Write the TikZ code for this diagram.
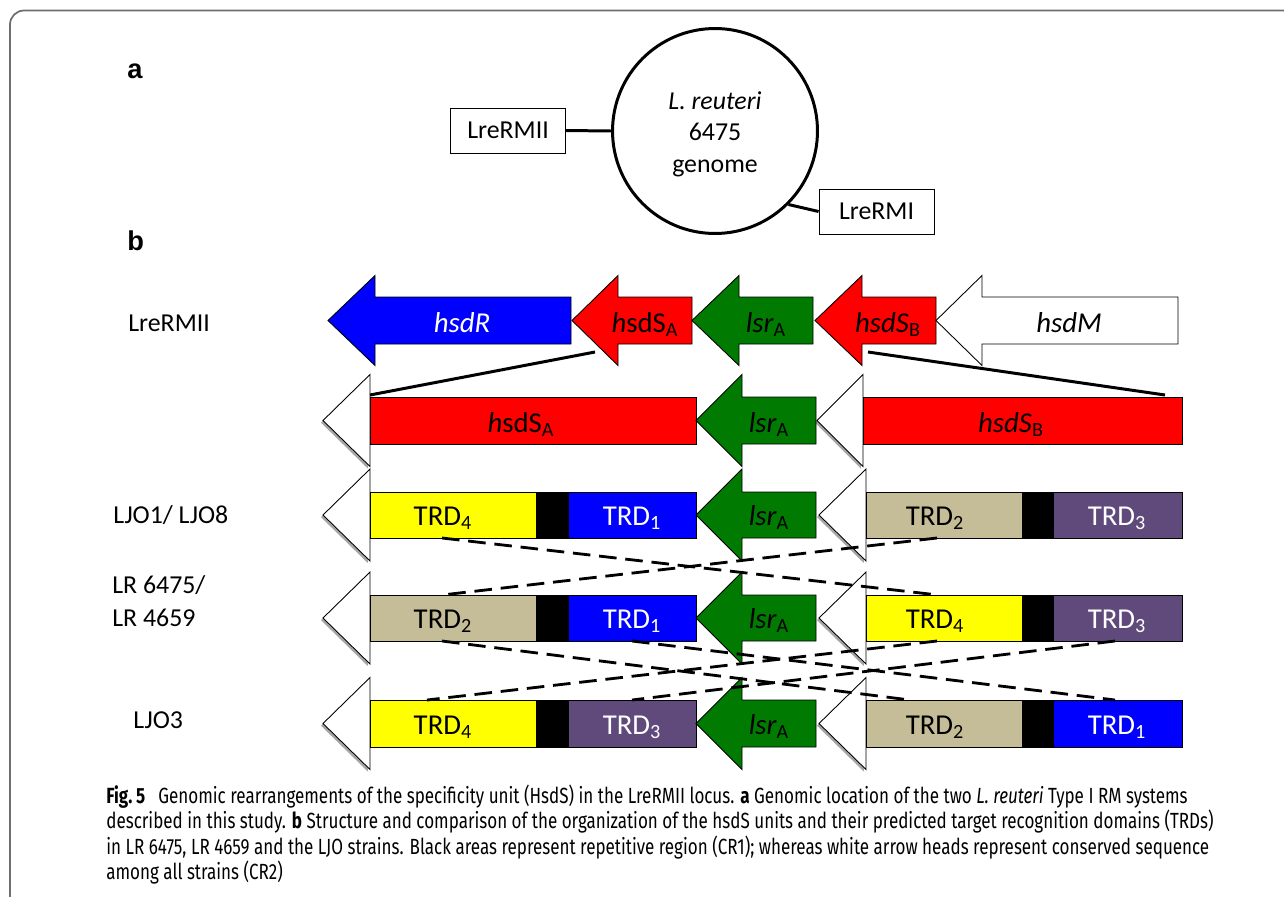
\documentclass[tikz,border=0pt]{standalone}
\usepackage{fontspec}
\setmainfont{Carlito}
\newfontfamily\capfont[FakeStretch=0.775]{Fira Sans}
\newfontfamily\arialfont{Liberation Sans}
\usetikzlibrary{shadows}
\definecolor{cblue}{RGB}{0,0,255}
\definecolor{cred}{RGB}{255,0,0}
\definecolor{cgreen}{RGB}{0,122,0}
\definecolor{cyellow}{RGB}{255,255,0}
\definecolor{ctan}{RGB}{196,189,151}
\definecolor{cpurple}{RGB}{96,74,123}
\definecolor{cframe}{RGB}{110,110,110}
% block arrow pointing left: style, tip x, back x, right x, centre y, head half, body half
\newcommand\blockarrow[7]{\filldraw[line width=0.5pt,#1] (#2,#5) -- (#3,#5-#6) -- (#3,#5-#7) -- (#4,#5-#7) -- (#4,#5+#7) -- (#3,#5+#7) -- (#3,#5+#6) -- cycle;}
% white arrow head: tip x, back x, centre y
\newcommand\whitehead[3]{\filldraw[fill=white,draw=black,line width=0.5pt,
  drop shadow={shadow xshift=-1.2pt, shadow yshift=-1.2pt, opacity=0.35, fill=black}] (#1,#3) -- (#2,#3-46) -- (#2,#3+46) -- cycle;}
\begin{document}
\begin{tikzpicture}[x=0.02cm,y=-0.02cm,
  gene/.style={font=\fontsize{16.4}{19}\selectfont, inner sep=0, anchor=base},
  lab/.style={font=\fontsize{14.7}{17}\selectfont, inner sep=0, anchor=base west},
  abox/.style={draw, line width=0.5pt, minimum width=2.3cm, minimum height=0.9cm, font=\fontsize{14.7}{17}\selectfont, inner sep=0},
  panel/.style={font=\arialfont\bfseries\fontsize{15.5}{18}\selectfont, inner sep=0, anchor=base west},
  thickline/.style={line width=1.7pt},
  dashx/.style={line width=1.6pt, dash pattern=on 10pt off 5pt},
  capline/.style={font=\capfont\fontsize{12.5}{15}\selectfont, inner sep=0, anchor=base west}
]
\useasboundingbox (0,0) rectangle (1284,896);
\begin{scope}
\clip (0,0) rectangle (1284,896);
\draw[cframe, line width=1pt, rounded corners=8pt] (1300,10.5) -- (10,10.5) -- (10,920);
\end{scope}

% ---------- panel a ----------
\node[panel] (pa) at (127,78) {a};
\node[circle, draw, line width=1.7pt, minimum size=4.1cm, inner sep=0] (genome) at (715,131) {};
\node[align=center, font=\fontsize{14.7}{18}\selectfont, inner sep=0] (gtext) at (715,134) {\textit{L. reuteri}\\6475\\genome};
\node[abox] (lrmII) at (508,130.5) {LreRMII};
\node[abox] (lrmI) at (876.5,211.5) {LreRMI};
\draw[thickline] (lrmII.east) -- (genome.west);
\draw[thickline] (genome.-45) -- (lrmI.west);

% ---------- panel b ----------
\node[panel] (pb) at (127,250) {b};

% row labels
\node[lab] (l1) at (128,331) {LreRMII};
\node[lab] (l3) at (113,523) {LJO1/ LJO8};
\node[lab] (l4a) at (112,593) {LR 6475/};
\node[lab] (l4b) at (112,626) {LR 4659};
\node[lab] (l5) at (133,728) {LJO3};

% row 1
\blockarrow{fill=cblue}{328}{375}{571}{320.5}{45}{23.5}
\blockarrow{fill=cred}{572}{618}{692}{320.5}{45}{23.5}
\blockarrow{fill=cgreen}{692}{739}{813}{320.5}{45}{23.5}
\blockarrow{fill=cred}{815}{862}{936}{320.5}{45}{23.5}
\blockarrow{fill=white}{936}{982}{1178}{320.5}{45}{23.5}
\node[gene, text=white] (g1r) at (462,332) {\textit{hsdR}};
\node[gene] (g1sa) at (645,332) {\textit{h}sdS\textsubscript{A}};
\node[gene] (g1l) at (766,332) {\textit{lsr}\textsubscript{A}};
\node[gene] (g1sb) at (888,332) {\textit{hsdS}\textsubscript{B}};
\node[gene] (g1m) at (1069,332) {\textit{hsdM}};

% row 2
\whitehead{323}{370}{420.5}
\filldraw[fill=cred, line width=0.5pt] (370,397) rectangle (696,444);
\blockarrow{fill=cgreen}{696}{742}{816}{420.5}{46}{23.5}
\whitehead{817}{863}{420.5}
\filldraw[fill=cred, line width=0.5pt] (863,397) rectangle (1182,444);
\node[gene] (g2sa) at (521,432) {\textit{h}sdS\textsubscript{A}};
\node[gene] (g2l) at (769,432) {\textit{lsr}\textsubscript{A}};
\node[gene] (g2sb) at (1011,432) {\textit{hsdS}\textsubscript{B}};

% connectors row 1 -> row 2
\coordinate (c1a) at (595,352);
\coordinate (c2a) at (370,395);
\coordinate (c1b) at (868,352);
\coordinate (c2b) at (1165,395);
\draw[thickline] (c1a) -- (c2a);
\draw[thickline] (c1b) -- (c2b);

% row 3 (LJO1/LJO8)
\whitehead{323}{370}{515}
\filldraw[fill=cyellow, line width=0.5pt] (370,492) rectangle (536,538);
\filldraw[fill=black] (536,492) rectangle (568,538);
\filldraw[fill=cblue, line width=0.5pt] (568,492) rectangle (696,538);
\blockarrow{fill=cgreen}{696}{742}{816}{515}{46}{23}
\whitehead{819}{866}{515}
\filldraw[fill=ctan, line width=0.5pt] (866,492) rectangle (1022,538);
\filldraw[fill=black] (1022,492) rectangle (1053,538);
\filldraw[fill=cpurple, line width=0.5pt] (1053,492) rectangle (1182,538);
\node[gene] (t3a) at (443,525) {TRD\textsubscript{4}};
\node[gene, text=white] (t3b) at (632,525) {TRD\textsubscript{1}};
\node[gene] (t3c) at (769,525) {\textit{lsr}\textsubscript{A}};
\node[gene] (t3d) at (935,525) {TRD\textsubscript{2}};
\node[gene, text=white] (t3e) at (1117,525) {TRD\textsubscript{3}};

% row 4 (LR 6475/ LR 4659)
\whitehead{323}{370}{618}
\filldraw[fill=ctan, line width=0.5pt] (370,595) rectangle (536,641);
\filldraw[fill=black] (536,595) rectangle (568,641);
\filldraw[fill=cblue, line width=0.5pt] (568,595) rectangle (696,641);
\blockarrow{fill=cgreen}{696}{742}{816}{618}{46}{23}
\whitehead{819}{866}{618}
\filldraw[fill=cyellow, line width=0.5pt] (866,595) rectangle (1022,641);
\filldraw[fill=black] (1022,595) rectangle (1053,641);
\filldraw[fill=cpurple, line width=0.5pt] (1053,595) rectangle (1182,641);
\node[gene] (t4a) at (443,628) {TRD\textsubscript{2}};
\node[gene, text=white] (t4b) at (632,628) {TRD\textsubscript{1}};
\node[gene] (t4c) at (769,628) {\textit{lsr}\textsubscript{A}};
\node[gene] (t4d) at (935,628) {TRD\textsubscript{4}};
\node[gene, text=white] (t4e) at (1117,628) {TRD\textsubscript{3}};

% row 5 (LJO3)
\whitehead{323}{370}{723.5}
\filldraw[fill=cyellow, line width=0.5pt] (370,700) rectangle (536,747);
\filldraw[fill=black] (536,700) rectangle (568,747);
\filldraw[fill=cpurple, line width=0.5pt] (568,700) rectangle (696,747);
\blockarrow{fill=cgreen}{696}{742}{816}{723.5}{46}{23.5}
\whitehead{819}{866}{723.5}
\filldraw[fill=ctan, line width=0.5pt] (866,700) rectangle (1022,747);
\filldraw[fill=black] (1022,700) rectangle (1053,747);
\filldraw[fill=cblue, line width=0.5pt] (1053,700) rectangle (1182,747);
\node[gene] (t5a) at (443,734) {TRD\textsubscript{4}};
\node[gene, text=white] (t5b) at (632,734) {TRD\textsubscript{3}};
\node[gene] (t5c) at (769,734) {\textit{lsr}\textsubscript{A}};
\node[gene] (t5d) at (935,734) {TRD\textsubscript{2}};
\node[gene, text=white] (t5e) at (1117,734) {TRD\textsubscript{1}};

% dashed rearrangement lines
\coordinate (d3a) at (442,538); \coordinate (d4d) at (938,595);
\coordinate (d3d) at (937,538); \coordinate (d4a) at (442,595);
\draw[dashx] (d3a) -- (d4d);
\draw[dashx] (d3d) -- (d4a);
\coordinate (e4a) at (442,641); \coordinate (e5d) at (910,700);
\coordinate (e4b) at (632,641); \coordinate (e5e) at (1115,700);
\coordinate (e4d) at (937,641); \coordinate (e5a) at (427,700);
\coordinate (e4e) at (1115,641); \coordinate (e5b) at (632,700);
\draw[dashx] (e4a) -- (e5d);
\draw[dashx] (e4b) -- (e5e);
\draw[dashx] (e4d) -- (e5a);
\draw[dashx] (e4e) -- (e5b);

% caption
\node[capline] (cap1) at (106,803) {\textbf{Fig.\,5}\hspace{0.6em}Genomic rearrangements of the specificity unit (HsdS) in the LreRMII locus. \textbf{a} Genomic location of the two \textit{L. reuteri} Type I RM systems};
\node[capline] (cap2) at (106,828.5) {described in this study. \textbf{b} Structure and comparison of the organization of the hsdS units and their predicted target recognition domains (TRDs)};
\node[capline] (cap3) at (106,854) {in LR 6475, LR 4659 and the LJO strains. Black areas represent repetitive region (CR1); whereas white arrow heads represent conserved sequence};
\node[capline] (cap4) at (106,879.5) {among all strains (CR2)};
\end{tikzpicture}
\end{document}
